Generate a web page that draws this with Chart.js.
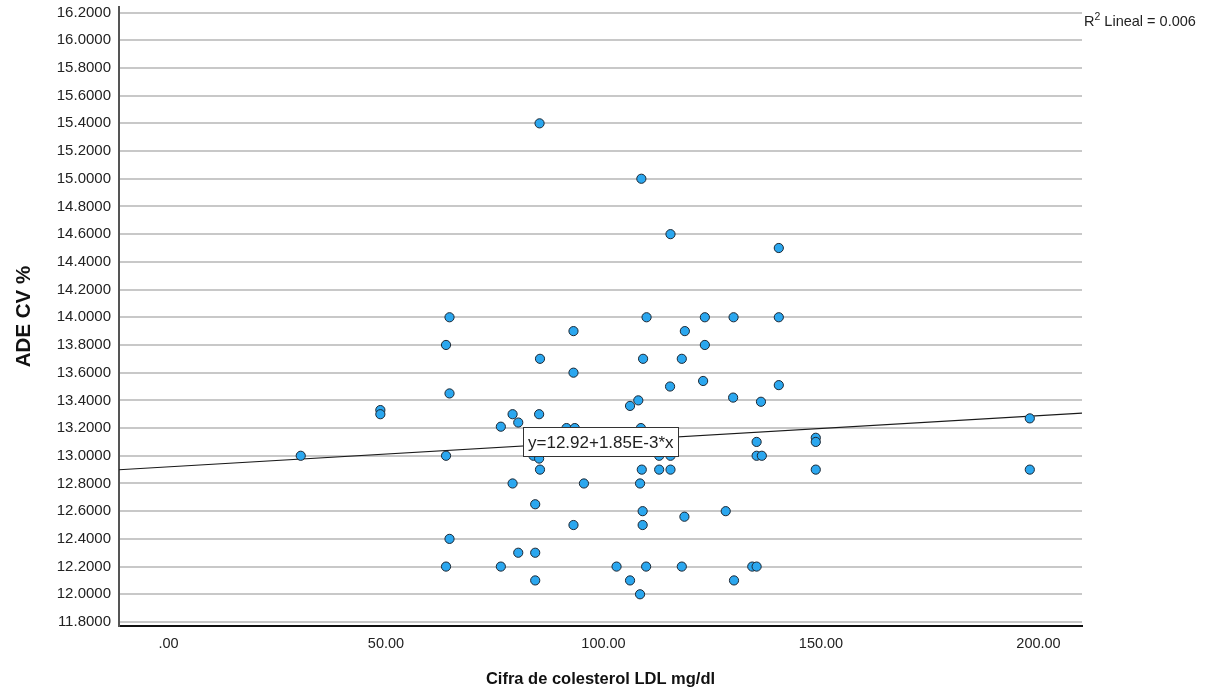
<!DOCTYPE html>
<html><head><meta charset="utf-8">
<script src="https://cdn.jsdelivr.net/npm/chart.js@4.4.1/dist/chart.umd.min.js"></script>
<style>html,body{margin:0;padding:0;background:#fff}#wrap{width:1213px;height:700px}</style>
</head><body><div id="wrap"><canvas id="c" width="1213" height="700"></canvas></div>
<script>
// ---- data ----
const ldlValues = [
  30.4, 48.7, 48.7, 64.6, 63.8, 64.6, 63.8, 64.6, 63.8, 79.1,
  80.4, 76.4, 85.2, 79.1, 84.3, 80.4, 84.3, 76.4, 84.3, 83.9,
  85.2, 85.4, 93.1, 85.4, 93.1, 91.5, 93.4, 95.5, 93.1, 106.1,
  108.0, 115.3, 122.9, 129.8, 136.2, 140.3, 108.4, 109.0, 118.6, 128.1,
  109.0, 103.0, 109.8, 118.0, 134.2, 135.2, 106.1, 130.0, 108.4, 108.8,
  112.8, 115.4, 112.8, 115.4, 135.2, 135.2, 136.4, 108.6, 123.3, 129.9,
  140.3, 123.3, 198.0, 148.8, 148.8, 148.8, 198.0, 109.9, 118.7, 109.1,
  118.0, 85.3, 108.7, 115.4, 140.3
];
const adeCvValues = [
  13.0, 13.33, 13.30, 13.45, 13.0, 12.4, 12.2, 14.0, 13.8, 13.3,
  13.24, 13.21, 13.3, 12.8, 12.65, 12.3, 12.3, 12.2, 12.1, 13.0,
  12.98, 12.9, 13.9, 13.7, 13.6, 13.2, 13.2, 12.8, 12.5, 13.36,
  13.4, 13.5, 13.54, 13.42, 13.39, 13.51, 12.8, 12.6, 12.56, 12.6,
  12.5, 12.2, 12.2, 12.2, 12.2, 12.2, 12.1, 12.1, 12.0, 12.9,
  13.0, 13.0, 12.9, 12.9, 13.1, 13.0, 13.0, 13.2, 14.0, 14.0,
  14.0, 13.8, 13.27, 13.13, 13.1, 12.9, 12.9, 14.0, 13.9, 13.7,
  13.7, 15.4, 15.0, 14.6, 14.5
];
const xTickValues = [0, 50, 100, 150, 200];
const xTickLabels = ['.00', '50.00', '100.00', '150.00', '200.00'];
const yTickValues = [11.8, 12.0, 12.2, 12.4, 12.6, 12.8, 13.0, 13.2, 13.4, 13.6, 13.8, 14.0,
  14.2, 14.4, 14.6, 14.8, 15.0, 15.2, 15.4, 15.6, 15.8, 16.0, 16.2];
const yTickLabels = ['11.8000','12.0000','12.2000','12.4000','12.6000','12.8000','13.0000','13.2000',
  '13.4000','13.6000','13.8000','14.0000','14.2000','14.4000','14.6000','14.8000','15.0000','15.2000',
  '15.4000','15.6000','15.8000','16.0000','16.2000'];
const fitIntercept = 12.92;
const fitSlope = 1.85e-3;
const fitLabel = 'y=12.92+1.85E-3*x';
const r2Parts = ['R', '2', ' Lineal = 0.006'];
const xAxisTitle = 'Cifra de colesterol LDL mg/dl';
const yAxisTitle = 'ADE CV %';
const xRange = [-11.38, 210.0];
const yRange = [11.771, 16.24];
const fitLabelAnchor = {x: 81.4, y: 13.21};

// ---- build ----
const FONT = "'Liberation Sans', Arial, Helvetica, sans-serif";
const points = ldlValues.map((v, i) => ({x: v, y: adeCvValues[i]}));
const fitLine = xRange.map(x => ({x: x, y: fitIntercept + fitSlope * x}));

const annotations = {
  id: 'annotations',
  afterDatasetsDraw(chart) {
    const ctx = chart.ctx;
    const xs = chart.scales.x, ys = chart.scales.y;
    ctx.save();
    ctx.font = '17px ' + FONT;
    const tw = ctx.measureText(fitLabel).width;
    const bx = Math.round(xs.getPixelForValue(fitLabelAnchor.x)) + 0.5;
    const by = Math.round(ys.getPixelForValue(fitLabelAnchor.y)) + 0.5;
    const bw = Math.round(tw + 9), bh = 29;
    ctx.fillStyle = '#ffffff';
    ctx.fillRect(bx, by, bw, bh);
    ctx.strokeStyle = '#333333';
    ctx.lineWidth = 1;
    ctx.strokeRect(bx, by, bw, bh);
    ctx.fillStyle = '#222222';
    ctx.textBaseline = 'middle';
    ctx.textAlign = 'left';
    ctx.fillText(fitLabel, bx + 4.5, by + bh / 2 + 1);
    ctx.restore();
  },
  afterDraw(chart) {
    const ctx = chart.ctx;
    const ca = chart.chartArea;
    ctx.save();
    ctx.fillStyle = '#222222';
    ctx.textBaseline = 'alphabetic';
    ctx.textAlign = 'left';
    let x = ca.right + 2;
    ctx.font = '14.5px ' + FONT;
    ctx.fillText(r2Parts[0], x, 26);
    x += ctx.measureText(r2Parts[0]).width;
    ctx.font = '10.5px ' + FONT;
    ctx.fillText(r2Parts[1], x, 20);
    x += ctx.measureText(r2Parts[1]).width;
    ctx.font = '14.5px ' + FONT;
    ctx.fillText(r2Parts[2], x, 26);
    ctx.restore();
  }
};

new Chart(document.getElementById('c'), {
  type: 'scatter',
  data: {
    datasets: [
      {
        type: 'scatter', data: points, order: 0,
        pointRadius: 4.6, pointHoverRadius: 4.6,
        pointBackgroundColor: '#2ba7ef', pointBorderColor: '#1c2733', pointBorderWidth: 1
      },
      {
        type: 'line', data: fitLine, order: 1,
        borderColor: '#1a1a1a', borderWidth: 1.2, pointRadius: 0, fill: false, tension: 0
      }
    ]
  },
  options: {
    responsive: false, animation: false, devicePixelRatio: 1,
    layout: {padding: {left: 0, right: 131, top: 7, bottom: 0}},
    plugins: {legend: {display: false}, tooltip: {enabled: false}},
    events: [],
    scales: {
      x: {
        type: 'linear', position: 'bottom', min: xRange[0], max: xRange[1],
        afterBuildTicks: s => { s.ticks = xTickValues.map(v => ({value: v})); },
        afterFit: s => { s.height = 74; s.paddingLeft = 0; s.paddingRight = 0; },
        grid: {display: false, drawTicks: false},
        border: {display: true, color: '#111111', width: 2},
        ticks: {
          autoSkip: false, maxRotation: 0, padding: 9, color: '#222222',
          font: {family: FONT, size: 14.5},
          callback: v => xTickLabels[xTickValues.indexOf(v)]
        },
        title: {display: true, text: xAxisTitle, color: '#111111',
          font: {family: FONT, size: 16.5, weight: 'bold'}, padding: {top: 0, bottom: 11}}
      },
      y: {
        type: 'linear', position: 'left', min: yRange[0], max: yRange[1],
        afterBuildTicks: s => { s.ticks = yTickValues.map(v => ({value: v})); },
        afterFit: s => { s.width = 119; s.paddingTop = 0; s.paddingBottom = 0; },
        grid: {display: true, drawTicks: false, color: '#c8c8c8', lineWidth: 2},
        border: {display: true, color: '#555555', width: 2},
        ticks: {
          autoSkip: false, padding: 8, color: '#222222',
          font: {family: FONT, size: 15},
          callback: v => yTickLabels[yTickValues.findIndex(t => Math.abs(t - v) < 1e-6)]
        },
        title: {display: true, text: yAxisTitle, color: '#111111',
          font: {family: FONT, size: 20.5, weight: 'bold'}, padding: {top: 12, bottom: 0}}
      }
    }
  },
  plugins: [annotations]
});
</script>
</body></html>
